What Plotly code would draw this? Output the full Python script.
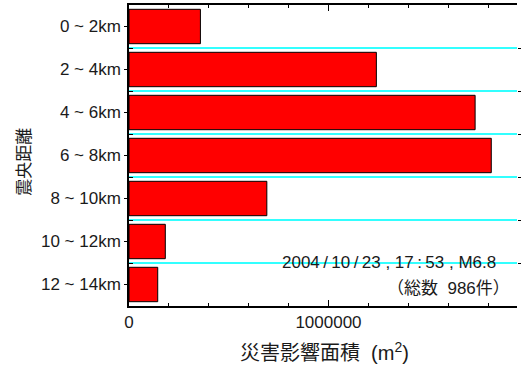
import plotly.graph_objects as go

# Damage-affected area by epicentral distance band
distance_bands = ["0 ~ 2km", "2 ~ 4km", "4 ~ 6km", "6 ~ 8km",
                  "8 ~ 10km", "10 ~ 12km", "12 ~ 14km"]
affected_area = [358000, 1240000, 1735000, 1816000, 691000, 182000, 144000]

TS = "\u2009"  # thin space
event_label = f"2004{TS}/{TS}10{TS}/{TS}23 , 17{TS}:{TS}53 , M6.8"
count_label = "（総数  986件）"
x_title = "災害影響面積  (m<sup>2</sup>)"
y_title = "震央距離"

LATIN = "Liberation Sans, Arial, sans-serif"
CJK = "Liberation Sans, Noto Sans CJK JP, sans-serif"
INK = "#1a1a1a"

positions = list(range(len(distance_bands)))
boundaries = [p + 0.5 for p in positions[:-1]]
y_range = [len(distance_bands) - 0.5, -0.5]

fig = go.Figure()
fig.add_trace(go.Bar(
    x=affected_area, y=positions, orientation="h", width=0.8,
    marker=dict(color="#ff0000", line=dict(color="#000000", width=1)),
    showlegend=False,
))
# empty trace so the right-hand tick axis is rendered
fig.add_trace(go.Scatter(x=[], y=[], yaxis="y2", showlegend=False))

fig.update_layout(
    width=522, height=367,
    margin=dict(l=129, r=2, t=5, b=61),
    paper_bgcolor="white", plot_bgcolor="white",
    font=dict(family=LATIN, size=17, color=INK),
    xaxis=dict(
        range=[0, 1945000], tickmode="array", tickvals=[0, 1000000],
        ticktext=["0", "1000000"],
        ticks="inside", ticklen=6, tickcolor="#000", tickwidth=1,
        minor=dict(dtick=200000, tick0=0, ticks="inside", ticklen=3,
                   tickcolor="#000", showgrid=False),
        showline=True, linecolor="#000", linewidth=1.5, mirror="ticks",
        showgrid=False, zeroline=False,
    ),
    yaxis=dict(
        range=y_range, tickmode="array", tickvals=positions,
        ticktext=distance_bands,
        ticks="outside", ticklen=3, tickcolor="#000",
        minor=dict(tickmode="array", tickvals=boundaries, ticks="inside",
                   ticklen=4, tickcolor="#000", showgrid=True,
                   gridcolor="#33ffff", gridwidth=1.5),
        showline=True, linecolor="#000", linewidth=1.5,
        showgrid=False, zeroline=False,
    ),
    yaxis2=dict(
        range=y_range, overlaying="y", side="right",
        tickmode="array", tickvals=boundaries, showticklabels=False,
        ticks="outside", ticklen=3, tickcolor="#000",
        showline=False, showgrid=False, zeroline=False,
    ),
    annotations=[
        dict(text=event_label, xref="paper", yref="paper",
             x=0.951, y=1 - (262 - 5) / 301, xanchor="right", yanchor="middle",
             showarrow=False, font=dict(family=CJK, size=17, color=INK)),
        dict(text=count_label, xref="paper", yref="paper",
             x=0.987, y=1 - (288 - 5) / 301, xanchor="right", yanchor="middle",
             showarrow=False, font=dict(family=CJK, size=17, color=INK)),
        dict(text=x_title, xref="paper", yref="paper",
             x=(326 - 129) / 391, y=-(352 - 306) / 301,
             xanchor="center", yanchor="middle",
             showarrow=False, font=dict(family=CJK, size=20, color=INK)),
        dict(text=y_title, xref="paper", yref="paper", textangle=-90,
             x=(23 - 129) / 391, y=1 - (162 - 5) / 301,
             xanchor="center", yanchor="middle",
             showarrow=False, font=dict(family=CJK, size=17, color=INK)),
    ],
)

fig.write_html("out.html")
